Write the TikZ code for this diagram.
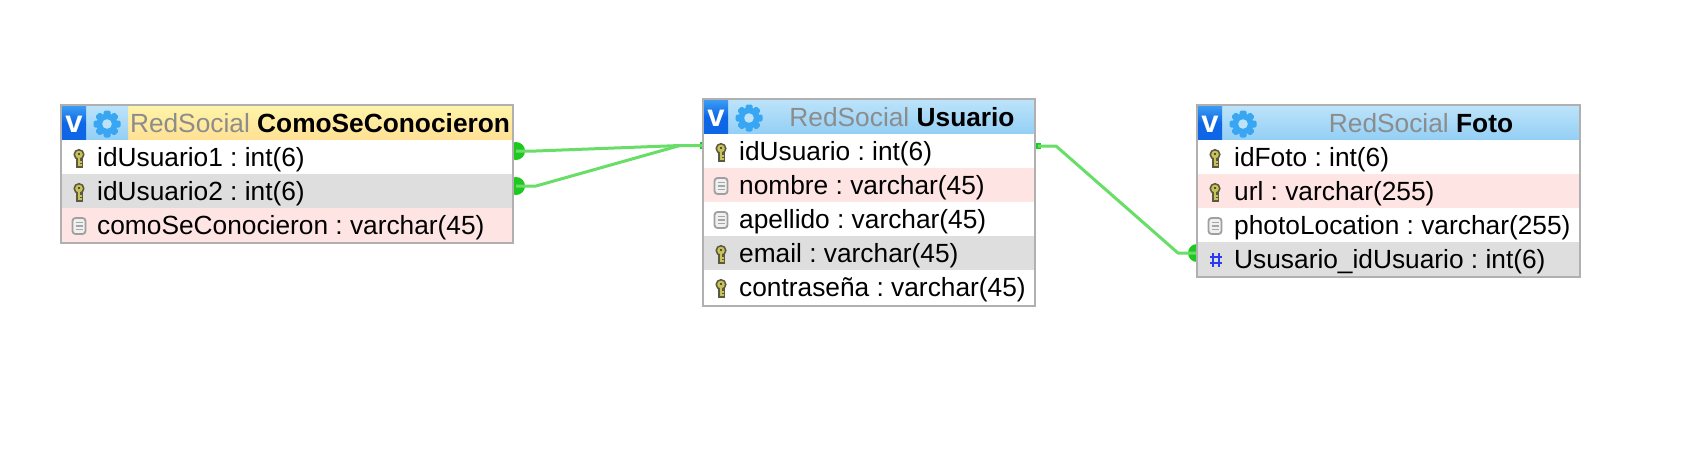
\documentclass[tikz,border=0pt]{standalone}
\usepackage{fontspec}
\setmainfont{Liberation Sans}
\usetikzlibrary{backgrounds}
\frenchspacing
\definecolor{framec}{HTML}{B0B0B0}
\definecolor{rowgray}{HTML}{DEDEDE}
\definecolor{rowpink}{HTML}{FFE4E4}
\definecolor{skytop}{HTML}{BCE3FA}
\definecolor{skybot}{HTML}{93CFF5}
\definecolor{yeltop}{HTML}{FFF4A8}
\definecolor{yelbot}{HTML}{FFE094}
\definecolor{vtop}{HTML}{3C9CF2}
\definecolor{vbot}{HTML}{0E66E6}
\definecolor{gearc}{HTML}{38A6F2}
\definecolor{linkc}{HTML}{68DE68}
\definecolor{dotc}{HTML}{1FC81F}
\definecolor{titlegray}{HTML}{8C8C8C}
\definecolor{hashc}{HTML}{2A3CF0}
\definecolor{keyc}{HTML}{C9C25A}
\definecolor{keyd}{HTML}{5A5A40}
\tikzset{
  x=1pt,y=-1pt,
  rowcell/.style={anchor=north west,inner sep=0pt,outer sep=0pt,minimum height=34pt,text height=19pt,text depth=6pt,align=left},
  rowtext/.style={anchor=base west,inner sep=0pt,font=\fontsize{26.3}{30}\selectfont,text=black},
  titletext/.style={anchor=base,inner sep=0pt,font=\fontsize{26.3}{30}\selectfont},
  headsky/.style={top color=skytop,bottom color=skybot,draw=none},
  headyel/.style={top color=yeltop,bottom color=yelbot,draw=none},
  frameb/.style={draw=framec,line width=2.4pt,fill=none,inner sep=0pt,outer sep=0pt,anchor=north west},
  linkline/.style={draw=linkc,line width=3pt,line join=round},
  enddot/.style={circle,fill=dotc,inner sep=0pt,minimum size=18pt,outer sep=0pt},
  endsq/.style={rectangle,fill=dotc,inner sep=0pt,minimum size=6.5pt,outer sep=0pt},
}
\newcommand{\headicons}[2]{%
  \begin{scope}[shift={(#1,#2)}]
    \fill[headsky] (24,0) rectangle (66,34);
    \fill[top color=vtop,bottom color=vbot,middle color=vbot] (0,0) rectangle (24,34);
    \node[inner sep=0pt,text=white,font=\fontsize{31}{31}\selectfont\bfseries] at (12,18.5) {v};
    \foreach \a in {0,45,...,315}{\fill[gearc,rounded corners=1.5pt,rotate around={\a:(45,18)}] (41.5,4.5) rectangle (48.5,10);}
    \fill[gearc] (45,18) circle (10.5);
    \fill[skytop] (45,18) circle (4.8);
  \end{scope}}
\newcommand{\keyicon}[2]{%
  \begin{scope}[shift={(#1,#2)}]
    \fill[keyd] (-2.6,-1) rectangle (3.6,9.5);
    \fill[keyd] (0,-3.5) circle (5.6);
    \fill[keyc] (0,-3.5) circle (3.8);
    \fill[keyd!50!black] (0,-4) circle (1.2);
    \fill[keyc] (-0.8,0) rectangle (1,8);
    \fill[keyc] (1,3) rectangle (3.4,4.6);
    \fill[keyc] (1,6) rectangle (3.4,7.6);
  \end{scope}}
\newcommand{\docicon}[2]{%
  \begin{scope}[shift={(#1,#2)}]
    \draw[gray!75,line width=1.8pt,fill=gray!12,rounded corners=3pt] (-6.5,-8) rectangle (6.5,8);
    \foreach \yy in {-3.5,0,3.5}{\draw[gray!70,line width=1.2pt] (-3.5,\yy) -- (3.5,\yy);}
  \end{scope}}
\newcommand{\hashicon}[2]{%
  \begin{scope}[shift={(#1,#2)}]
    \draw[hashc,line width=2pt] (-2.8,-7) -- (-2.8,7) (2.8,-7) -- (2.8,7) (-6,-2.8) -- (6,-2.8) (-6,2.8) -- (6,2.8);
  \end{scope}}
\begin{document}
\begin{tikzpicture}
\useasboundingbox (0,0) rectangle (1688,452);

% ---------- ComoSeConocieron
\node[rowcell,headyel,minimum width=385pt] (hA) at (127,106) {};
\headicons{62}{106}
\node[titletext] (tA) at (320,132) {\textcolor{titlegray}{RedSocial} \textbf{ComoSeConocieron}};
\node[rowcell,fill=white,minimum width=450pt] (a1) at (62,140) {};
\node[rowcell,fill=rowgray,minimum width=450pt] (a2) at (62,174) {};
\node[rowcell,fill=rowpink,minimum width=450pt] (a3) at (62,208) {};
\keyicon{79}{158}\keyicon{79}{192}\docicon{79}{226}
\node[rowtext] (ta1) at (97,166) {idUsuario1 : int(6)};
\node[rowtext] (ta2) at (97,200) {idUsuario2 : int(6)};
\node[rowtext] (ta3) at (97,234) {comoSeConocieron : varchar(45)};
\node[frameb,minimum width=452pt,minimum height=138pt] (fA) at (61,105) {};

% ---------- Usuario
\node[rowcell,headsky,minimum width=330pt] (hB) at (704,100) {};
\headicons{704}{100}
\node[titletext] (tB) at (902,126) {\textcolor{titlegray}{RedSocial} \textbf{Usuario}};
\node[rowcell,fill=white,minimum width=330pt] (b1) at (704,134) {};
\node[rowcell,fill=rowpink,minimum width=330pt] (b2) at (704,168) {};
\node[rowcell,fill=white,minimum width=330pt] (b3) at (704,202) {};
\node[rowcell,fill=rowgray,minimum width=330pt] (b4) at (704,236) {};
\node[rowcell,fill=white,minimum width=330pt] (b5) at (704,270) {};
\keyicon{721}{152}\docicon{721}{186}\docicon{721}{220}\keyicon{721}{254}\keyicon{721}{288}
\node[rowtext] (tb1) at (739,160) {idUsuario : int(6)};
\node[rowtext] (tb2) at (739,194) {nombre : varchar(45)};
\node[rowtext] (tb3) at (739,228) {apellido : varchar(45)};
\node[rowtext] (tb4) at (739,262) {email : varchar(45)};
\node[rowtext] (tb5) at (739,296) {contraseña : varchar(45)};
\node[frameb,minimum width=332pt,minimum height=207pt] (fB) at (703,99) {};

% ---------- Foto
\node[rowcell,headsky,minimum width=381pt] (hC) at (1198,106) {};
\headicons{1198}{106}
\node[titletext] (tC) at (1421,132) {\textcolor{titlegray}{RedSocial} \textbf{Foto}};
\node[rowcell,fill=white,minimum width=381pt] (c1) at (1198,140) {};
\node[rowcell,fill=rowpink,minimum width=381pt] (c2) at (1198,174) {};
\node[rowcell,fill=white,minimum width=381pt] (c3) at (1198,208) {};
\node[rowcell,fill=rowgray,minimum width=381pt] (c4) at (1198,242) {};
\keyicon{1215}{158}\keyicon{1215}{192}\docicon{1215}{226}\hashicon{1216}{260}
\node[rowtext] (tc1) at (1234,166) {idFoto : int(6)};
\node[rowtext] (tc2) at (1234,200) {url : varchar(255)};
\node[rowtext] (tc3) at (1234,234) {photoLocation : varchar(255)};
\node[rowtext] (tc4) at (1234,268) {Ususario\_idUsuario : int(6)};
\node[frameb,minimum width=383pt,minimum height=172pt] (fC) at (1197,105) {};

% ---------- Connectors, behind the tables
\begin{scope}[on background layer]
  \fill[white] (0,0) rectangle (1688,452);
  \coordinate (ja) at (680,145.5);
  \coordinate (j1) at (536,151);
  \coordinate (j2) at (536,186);
  \coordinate (k1) at (1056,146);
  \coordinate (k2) at (1178,253);
  \node[enddot] (da1) at (516,151) {};
  \node[enddot] (da2) at (516,186) {};
  \node[endsq] (sb) at (703,145.5) {};
  \node[endsq] (sb2) at (1038,146) {};
  \node[enddot] (dc) at (1197,253) {};
  \draw[linkline] (da1.center) -- (j1) -- (ja) -- (sb.center);
  \draw[linkline] (da2.center) -- (j2) -- (ja);
  \draw[linkline] (sb2.center) -- (k1) -- (k2) -- (dc.center);
\end{scope}
\end{tikzpicture}
\end{document}
